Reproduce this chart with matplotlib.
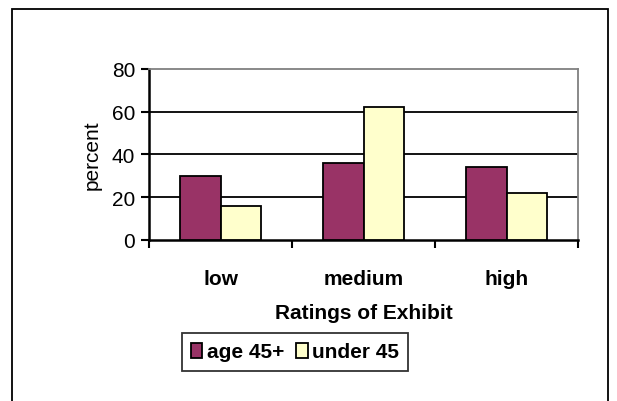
import numpy as np
import matplotlib
matplotlib.use("Agg")
import matplotlib.pyplot as plt
from matplotlib.patches import Rectangle

plt.rcParams['font.family'] = ['Liberation Sans', 'DejaVu Sans']

categories = ['low', 'medium', 'high']
series_names = ['age 45+', 'under 45']
age45_plus = [30, 36, 34]
under45 = [16, 62, 22]
yticks = [0, 20, 40, 60, 80]

colors = ['#993366', '#ffffcc']
fs = 15

fig = plt.figure(figsize=(6.17, 4.02), dpi=100)
ax = fig.add_axes([0.2415, 0.4005, 0.6953, 0.4254])

# outer chart border (bottom edge runs off the picture)
fig.patches.append(Rectangle((12 / 617, -0.05), (608 - 12) / 617, 1 - 10 / 402 + 0.05,
                             transform=fig.transFigure, fill=False,
                             edgecolor='black', linewidth=1.3))

x = np.arange(len(categories))
w = 1 / 3.5
b1 = ax.bar(x - w / 2, age45_plus, w, color=colors[0], edgecolor='black',
            linewidth=1.3, label=series_names[0], zorder=3)
b2 = ax.bar(x + w / 2, under45, w, color=colors[1], edgecolor='black',
            linewidth=1.3, label=series_names[1], zorder=3)

ax.set_xlim(-0.5, len(categories) - 0.5)
ax.set_ylim(0, 80)
ax.set_yticks(yticks)
ax.set_yticklabels([str(v) for v in yticks], fontsize=fs)
for v in yticks[1:-1]:
    ax.axhline(v, color='black', linewidth=1.3, zorder=1)

# x ticks at category boundaries, labels at centres
ax.set_xticks(np.arange(len(categories) + 1) - 0.5)
ax.set_xticklabels([])
ax.set_xticks(x, minor=True)
ax.set_xticklabels(categories, minor=True, fontsize=fs, fontweight='bold')
ax.tick_params(axis='x', which='major', direction='out', length=6, width=1.5, color='black')
ax.tick_params(axis='x', which='minor', length=0, pad=21)
ax.tick_params(axis='y', direction='out', length=6, width=1.5, pad=4)

for side in ['top', 'right']:
    ax.spines[side].set_color('#808080')
    ax.spines[side].set_linewidth(1.3)
for side in ['left', 'bottom']:
    ax.spines[side].set_color('black')
    ax.spines[side].set_linewidth(1.8)

ax.set_ylabel('percent', fontsize=fs, labelpad=7)
ax.set_xlabel('Ratings of Exhibit', fontsize=fs, fontweight='bold', labelpad=11)

leg = fig.legend(handles=[b1, b2], loc='center', bbox_to_anchor=(295 / 617, 1 - 353 / 402),
                 ncol=2, frameon=True, fancybox=False, prop={'size': fs, 'weight': 'bold'},
                 handlelength=0.55, handleheight=0.7, handletextpad=0.2, columnspacing=0.6,
                 borderpad=0.45, borderaxespad=0)
leg.get_frame().set_edgecolor('black')
leg.get_frame().set_linewidth(1.3)

fig.savefig('out.png', dpi=100)
